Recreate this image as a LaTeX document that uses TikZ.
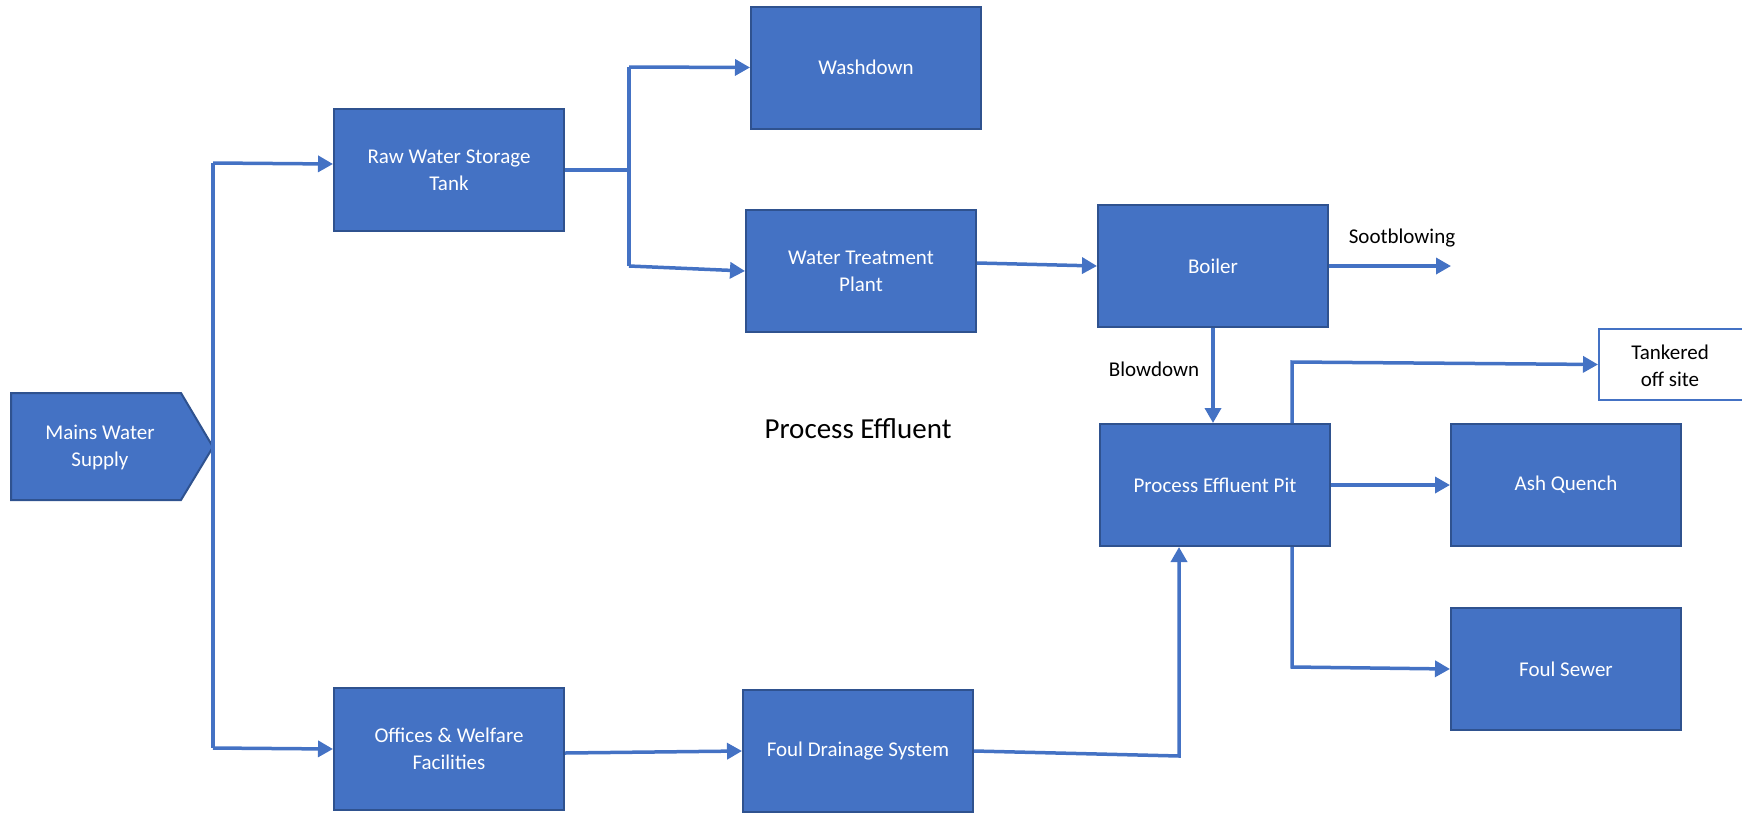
\documentclass[tikz,border=0pt]{standalone}
\usepackage{fontspec}
\setmainfont{Carlito}
\usetikzlibrary{arrows.meta}
\definecolor{boxfill}{HTML}{4472C4}
\definecolor{boxline}{HTML}{2F528F}
\definecolor{flow}{HTML}{4472C4}
\begin{document}
\begin{tikzpicture}[x=1pt,y=-1pt,
  blk/.style={draw=boxline,line width=2pt,fill=boxfill,text=white,inner sep=0pt,
    minimum width=230pt,minimum height=122pt,align=center,font=\fontsize{21}{27}\selectfont},
  wbox/.style={draw=flow,line width=2pt,fill=white,text=black,inner sep=0pt,
    minimum width=148pt,minimum height=71pt,align=center,font=\fontsize{21}{27}\selectfont},
  lbl/.style={text=black,inner sep=0pt,font=\fontsize{21}{27}\selectfont},
  flw/.style={draw=flow,line width=3.5pt},
  arr/.style={flw,-{Triangle[length=15pt,width=16pt]}}]
\useasboundingbox (0,0) rectangle (1742,822);
\begin{scope}
\clip (0,0) rectangle (1742,822);
% Mains water supply pentagon
\draw[boxline,line width=2pt,fill=boxfill] (11,393) -- (181,393) -- (213,447) -- (181,500) -- (11,500) -- cycle;
\node[text=white,align=center,font=\fontsize{21}{27}\selectfont] (mains) at (100,447) {Mains Water\\Supply};
\coordinate (tip) at (213,447);
\coordinate (vt) at (213,163);
\coordinate (vb) at (213,748);

\node[blk] (raw) at (449,170) {Raw Water Storage\\Tank};
\node[blk] (wash) at (866,67.5) {Washdown};
\node[blk] (wtp) at (861,271) {Water Treatment\\Plant};
\node[blk] (boiler) at (1213,266) {Boiler};
\node[blk] (pep) at (1215,485) {Process Effluent Pit};
\node[blk] (ash) at (1566,485) {Ash Quench};
\node[blk] (sewer) at (1566,669) {Foul Sewer};
\node[blk] (office) at (449,749) {Offices \& Welfare\\Facilities};
\node[blk] (fds) at (858,751) {Foul Drainage System};
\node[wbox,anchor=west] (tank) at (1598,364.5) {};
\node[text=black,align=center,font=\fontsize{21}{27}\selectfont] (tanktxt) at (1670,366) {Tankered\\off site};

\node[lbl] (soot) at (1402,238) {Sootblowing};
\node[lbl] (blow) at (1154,369) {Blowdown};
\node[text=black,inner sep=0pt,font=\fontsize{29}{35}\selectfont] (pe) at (858,429) {Process Effluent};

\coordinate (sootend) at (1451,266);
\coordinate (split) at (629,170);
\coordinate (splitT) at (629,67);
\coordinate (splitB) at (629,266);
\coordinate (tankup) at (1292,362);
\coordinate (sewdown) at (1292,667);
\coordinate (fdsturn) at (1179,756);
\end{scope}

% connectors
\draw[flw] (vt) -- (vb);
\draw[arr] (vt) -- (raw.west |- 0,164);
\draw[arr] (vb) -- (office.west);
\draw[flw] (raw.east) -- (split);
\draw[flw] (splitT) -- (splitB);
\draw[arr] (splitT) -- (wash.west);
\draw[arr] (splitB) -- (wtp.west);
\draw[arr] (wtp.east |- 0,263) -- (boiler.west);
\draw[arr] (boiler.east) -- (sootend);
\draw[arr] (boiler.south) -- (pep.north -| boiler.south);
\draw[arr] (pep.north -| tankup) -- (tankup) -- (tank.west);
\draw[arr] (pep.east) -- (ash.west);
\draw[arr] (pep.south -| sewdown) -- (sewdown) -- (sewer.west);
\draw[arr] (office.east |- 0,753) -- (fds.west);
\draw[arr] (fds.east) -- (fdsturn) -- (pep.south -| fdsturn);
\end{tikzpicture}
\end{document}
